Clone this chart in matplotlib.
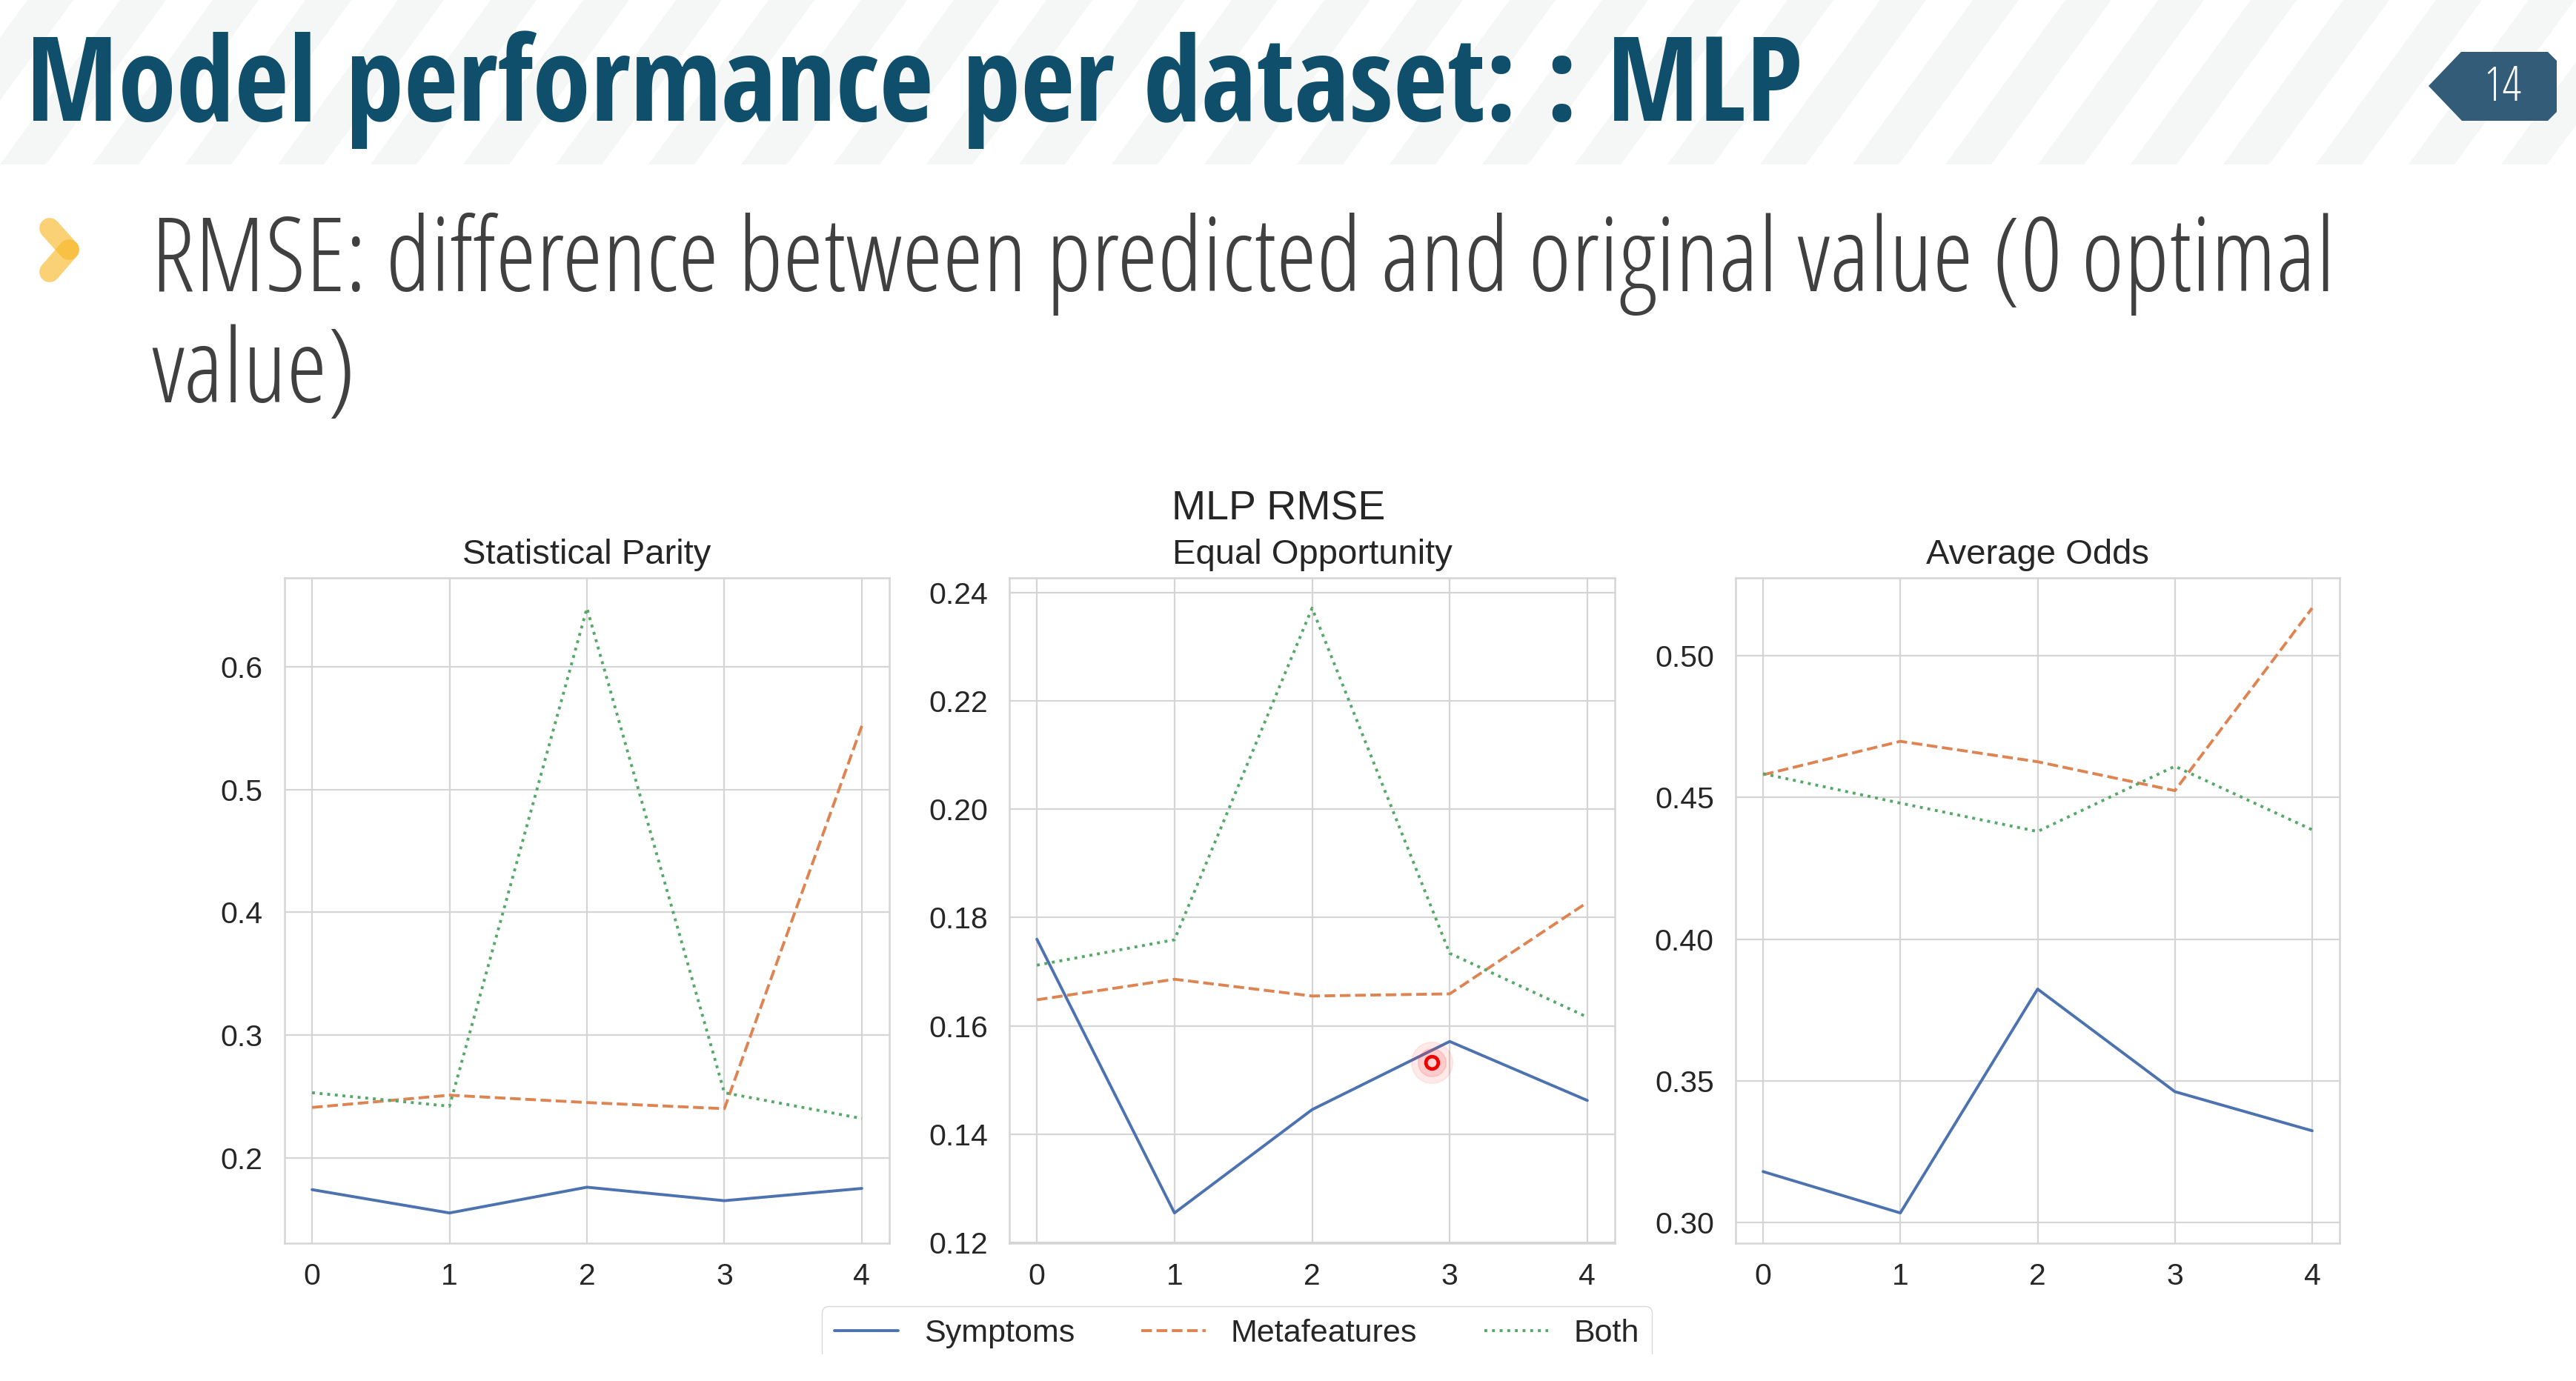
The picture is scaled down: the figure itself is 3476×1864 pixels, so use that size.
import matplotlib
matplotlib.use("Agg")
import matplotlib.pyplot as plt
import seaborn as sns
from matplotlib import font_manager
from matplotlib.font_manager import FontProperties
from matplotlib.patches import Polygon
from matplotlib.ticker import MultipleLocator
from matplotlib.transforms import Bbox, TransformedBbox

# data
x = [0, 1, 2, 3, 4]
panel_titles = ["Statistical Parity", "Equal Opportunity", "Average Odds"]
series_names = ["Symptoms", "Metafeatures", "Both"]

sp_symptoms = [0.174, 0.155, 0.176, 0.165, 0.175]
sp_meta = [0.241, 0.251, 0.245, 0.240, 0.552]
sp_both = [0.253, 0.242, 0.648, 0.253, 0.232]

eo_symptoms = [0.176, 0.1254, 0.1445, 0.1571, 0.1462]
eo_meta = [0.1648, 0.1686, 0.1655, 0.1659, 0.1828]
eo_both = [0.1712, 0.1759, 0.2372, 0.1734, 0.1616]

ao_symptoms = [0.318, 0.3034, 0.3824, 0.3462, 0.3324]
ao_meta = [0.458, 0.4698, 0.4626, 0.4524, 0.5168]
ao_both = [0.4584, 0.448, 0.438, 0.461, 0.4386]

slide_title = "Model performance per dataset: : MLP"
bullet_line1 = "RMSE: difference between predicted and original value (0 optimal"
bullet_line2 = "value)"
page_no = "14"

W, H = 3476, 1864

sns.set_theme(style="whitegrid")
plt.rcParams["font.family"] = ["Liberation Sans", "DejaVu Sans"]


def wnum(f):
    w = f.weight
    if isinstance(w, str):
        w = font_manager.weight_dict.get(w, 400)
    return w


def is_cond(f):
    return (f.stretch not in ("normal", 500)) or "Cond" in f.name or "Narrow" in f.name


def find_font(want_w, condensed):
    order = ["Open Sans", "Noto Sans", "Roboto", "Lato", "Inter", "DejaVu Sans", "Liberation Sans"]
    best = None
    for f in font_manager.fontManager.ttflist:
        if f.style != "normal":
            continue
        if condensed != is_cond(f):
            continue
        rank = len(order)
        for i, o in enumerate(order):
            if f.name.startswith(o):
                rank = i
                break
        key = (rank, abs(wnum(f) - want_w))
        if best is None or key < best[0]:
            best = (key, f)
    return best[1] if best else None


# slide uses Open Sans Condensed (bold for the title, light for the body)
bold_f = find_font(700, True) or find_font(700, False)
light_f = find_font(300, True) or find_font(300, False)
fp_bold = FontProperties(fname=bold_f.fname)
fp_light = FontProperties(fname=light_f.fname)

fig = plt.figure(figsize=(W / 100, H / 100), dpi=100)
fig.patch.set_facecolor("white")

# background layer in pixel coordinates
bg = fig.add_axes([0, 0, 1, 1])
bg.set_xlim(0, W)
bg.set_ylim(H, 0)
bg.axis("off")
bg.set_zorder(-5)

# striped header band
band_h = 222
for k in range(-3, 32):
    xb = k * 125
    dx = band_h * 0.73
    bg.add_patch(Polygon([(xb, band_h), (xb + 62, band_h), (xb + 62 + dx, 0), (xb + dx, 0)],
                         closed=True, facecolor="#f5f6f6", edgecolor="none"))

# page badge
bg.add_patch(Polygon([(3277, 116), (3321, 70), (3438, 70), (3450, 82), (3450, 151),
                      (3438, 163), (3322, 163)], closed=True, facecolor="#335c79", edgecolor="none"))
bg.text(3377, 119, page_no, color="white", ha="center", va="center", fontsize=46,
        fontproperties=fp_light)

# bullet chevron
bg.plot([67, 93], [308, 337], color="#f8b92b", alpha=0.65, lw=20, solid_capstyle="round")
bg.plot([93, 67], [337, 367], color="#f8b92b", alpha=0.65, lw=20, solid_capstyle="round")

# slide title and bullet text
t_title = bg.text(35, 163, slide_title, color="#0f4f6b", fontproperties=fp_bold, fontsize=115,
                  va="baseline", ha="left")
t_b1 = bg.text(204, 393, bullet_line1, color="#404040", fontproperties=fp_light, fontsize=101,
               va="baseline", ha="left")
t_b2 = bg.text(204, 543, bullet_line2, color="#404040", fontproperties=fp_light, fontsize=101,
               va="baseline", ha="left")

# fit text to the widths measured on the slide
renderer = fig.canvas.get_renderer()
for t, target in [(t_title, 2397), (t_b1, 2944)]:
    wpx = t.get_window_extent(renderer).width
    t.set_fontsize(t.get_fontsize() * target / wpx)
t_b2.set_fontsize(t_b1.get_fontsize())

# chart panels
lefts = [384, 1362, 2342]
rights = [1200, 2179, 3157]
top, bottom = 780, 1678
panel_data = [
    (sp_symptoms, sp_meta, sp_both, 0.1),
    (eo_symptoms, eo_meta, eo_both, 0.02),
    (ao_symptoms, ao_meta, ao_both, 0.05),
]
colors = ["#4c72b0", "#dd8452", "#55a868"]
styles = ["-", "--", ":"]

axes = []
for i in range(3):
    ax = fig.add_axes([lefts[i] / W, 1 - bottom / H, (rights[i] - lefts[i]) / W, (bottom - top) / H])
    s1, s2, s3, step = panel_data[i]
    lines = []
    for vals, c, ls, name in zip([s1, s2, s3], colors, styles, series_names):
        ln, = ax.plot(x, vals, color=c, linestyle=ls, lw=2.8, label=name)
        lines.append(ln)
    ax.yaxis.set_major_locator(MultipleLocator(step))
    ax.set_xticks(x)
    ax.set_title(panel_titles[i], fontsize=34, pad=13.7, color="#262626")
    ax.tick_params(axis="both", length=0, labelsize=29.5, colors="#262626")
    ax.tick_params(axis="x", pad=19)
    ax.tick_params(axis="y", pad=21)
    ax.grid(True, color="#d5d5d5", lw=1.6)
    for sp in ax.spines.values():
        sp.set_color("#d5d5d5")
        sp.set_linewidth(1.8)
    axes.append(ax)

# presenter pointer on the middle panel
ax2 = axes[1]
ax2.plot([2.87], [0.1532], "o", ms=40, color="#ff3030", alpha=0.10, zorder=5)
ax2.plot([2.87], [0.1532], "o", ms=27, color="#ff3030", alpha=0.16, zorder=5)
ax2.plot([2.87], [0.1532], "o", ms=12, mfc="#ffd6d6", mec="#ee0000", mew=3.4, zorder=6)

fig.text(1725 / W, 1 - 702 / H, "MLP RMSE", ha="center", va="baseline", fontsize=40, color="#262626")

leg = fig.legend(lines, series_names, loc="upper left", bbox_to_anchor=(1109 / W, 1 - 1763 / H),
                 ncol=3, fontsize=31, frameon=True, borderaxespad=0, edgecolor="0.82",
                 handlelength=2.0, columnspacing=2.1)
for txt in leg.get_texts():
    txt.set_color("#262626")
leg.legendPatch.set_clip_box(TransformedBbox(Bbox([[0, 36 / H], [1, 1]]), fig.transFigure))
leg.legendPatch.set_clip_on(True)

fig.savefig("out.png", dpi=100, facecolor="white")
